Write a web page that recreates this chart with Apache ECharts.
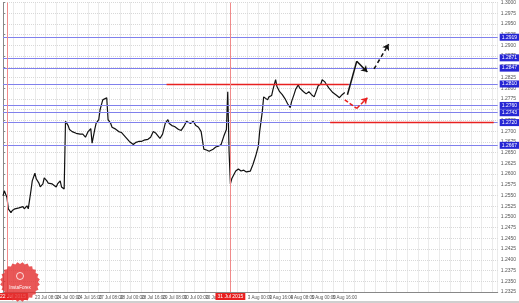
<!DOCTYPE html>
<html><head><meta charset="utf-8">
<script src="https://cdn.jsdelivr.net/npm/echarts@6/dist/echarts.min.js"></script>
<style>html,body{margin:0;padding:0;background:#fff}#c{width:519px;height:303px}</style>
</head><body><div id="c"></div>
<script>
// bar index (H1 bars) and close prices
const bars = [0,1,3,4,6,7,9,10,12,13,15,16,18,19,21,22,24,25,27,28,30,31,33,34,35,37,38,40,41,43,44,46,47,49,50,52,53,55,58,60,62,64,66,67,69,70,72,73,75,76,78,79,81,82,84,87,89,91,93,95,98,100,102,104,106,109,111,113,115,118,120,122,124,125,127,129,132,134,136,138,141,143,145,147,149,151,153,155,158,160,162,164,166,168,169,170,171,172,175,177,179,181,183,186,188,190,192,193,195,196,197,199,200,202,203,205,206,208,210,212,214,216,217,219,220,222,223,226,228,230,232,234,236,237,239,240,242,243,245,246,248,251,253,255,257];
const closes = [1.2549,1.2561,1.2545,1.2519,1.2510,1.2515,1.2519,1.2515,1.2521,1.2517,1.2524,1.2519,1.2526,1.2519,1.2561,1.2584,1.2602,1.2589,1.2579,1.2570,1.2577,1.2591,1.2584,1.2579,1.2582,1.2577,1.2575,1.2570,1.2577,1.2584,1.2570,1.2565,1.2723,1.2713,1.2704,1.2699,1.2697,1.2695,1.2693,1.2693,1.2686,1.2699,1.2706,1.2672,1.2704,1.2718,1.2727,1.2750,1.2773,1.2769,1.2778,1.2727,1.2718,1.2709,1.2706,1.2699,1.2697,1.2690,1.2683,1.2676,1.2669,1.2674,1.2676,1.2676,1.2679,1.2681,1.2686,1.2699,1.2695,1.2683,1.2693,1.2718,1.2727,1.2718,1.2713,1.2711,1.2704,1.2702,1.2711,1.2723,1.2718,1.2723,1.2713,1.2709,1.2699,1.2658,1.2656,1.2653,1.2658,1.2663,1.2665,1.2669,1.2688,1.2704,1.2792,1.2653,1.2577,1.2589,1.2607,1.2612,1.2607,1.2609,1.2605,1.2607,1.2623,1.2642,1.2665,1.2699,1.2746,1.2780,1.2776,1.2773,1.2780,1.2783,1.2797,1.2820,1.2804,1.2792,1.2785,1.2776,1.2764,1.2755,1.2769,1.2787,1.2797,1.2808,1.2801,1.2792,1.2787,1.2792,1.2785,1.2780,1.2797,1.2806,1.2810,1.2820,1.2815,1.2810,1.2801,1.2797,1.2790,1.2783,1.2778,1.2785,1.2790];
const labelBars = [24,40,56,72,88,104,120,136,152,168,184,200,216,232,248];
const timeLabels = ["23 Jul 08:00","24 Jul 00:00","24 Jul 16:00","27 Jul 08:00","28 Jul 00:00","28 Jul 16:00","29 Jul 08:00","30 Jul 00:00","30 Jul 16:00","","3 Aug 00:00","3 Aug 16:00","4 Aug 08:00","5 Aug 00:00","5 Aug 16:00"];
const blueLevels = [1.2919,1.2871,1.2847,1.2810,1.2760,1.2743,1.2720,1.2667];
const currentPrice = 1.2792;
const redSegments = [[123,260,1.2810],[246,369,1.2720]];
const vLineBars = [3,171];
const vLineLabels = ["22 Jul 2015","31 Jul 2015"];
const blackPath = [[259,1.2785],[266,1.2863],[274,1.2838]];
const blackDashed = [[279,1.2845],[290,1.2903]];
const redPath = [[257,1.2773],[266,1.2753],[274,1.2778]];

const chart = echarts.init(document.getElementById('c'), null, {renderer:'canvas'});
const FONT = 'Liberation Sans Narrow, Liberation Sans, sans-serif';
const BLUE = '#8080ec';

const levelLines = blueLevels.map(v => ({yAxis: v,
  label:{show:true, position:'end', distance:2, formatter: () => v.toFixed(4), color:'#fff', backgroundColor:'#2626d4', fontSize:5, padding:[1,2], fontFamily:FONT}}));
levelLines.push({yAxis: currentPrice, lineStyle:{opacity:0, color:'#000'},
  label:{show:true, position:'end', distance:2, formatter: () => currentPrice.toFixed(4), color:'#fff', backgroundColor:'#111', fontSize:5, padding:[1,2], fontFamily:FONT}});

const extra = [];
redSegments.forEach(s => extra.push([{coord:[s[0], s[2]], lineStyle:{color:'#e82020', width:1.4, type:'solid'}, label:{show:false}}, {coord:[s[1], s[2]]}]));
vLineBars.forEach((b, i) => extra.push({xAxis: b, lineStyle:{color:'#f08a8a', width:1, type:'solid'},
  label:{show:true, position:'start', distance:1, formatter: () => vLineLabels[i], color:'#fff', backgroundColor:'#e82020', fontSize:5, padding:[1,2], fontFamily:FONT, offset: i === 0 ? [6,0] : [0,0]}}));
function addPath(pts, color, type) {
  for (let i = 0; i < pts.length - 1; i++) {
    const last = i === pts.length - 2;
    extra.push([{coord: pts[i], symbol:'none', lineStyle:{color, width:1.5, type}, label:{show:false}},
             {coord: pts[i+1], symbol: last ? 'arrow' : 'none', symbolSize: 6}]);
  }
}
addPath(blackPath, '#111', 'solid');
addPath(blackDashed, '#111', [4,3]);
addPath(redPath, '#e82020', [4,2]);

const logoPts = [];
for (let k = 0; k < 48; k++) {
  const a = k / 48 * Math.PI * 2;
  const r = k % 2 ? 20 : 18;
  logoPts.push([20 + r * Math.cos(a), 282 + r * Math.sin(a)]);
}

chart.setOption({
  animation:false,
  backgroundColor:'#fff',
  grid:{left:0, right:16, top:0, bottom:11, containLabel:false},
  xAxis:{type:'value', min:0, max:372, interval:8,
    axisLine:{show:true, lineStyle:{color:'#888', width:1}},
    axisTick:{show:false},
    splitLine:{show:true, lineStyle:{color:'#d8d8d8', type:'dotted', width:1}},
    axisLabel:{show:true, fontSize:4.5, color:'#555', margin:3, align:'left', fontFamily:FONT,
      formatter: v => { const i = labelBars.indexOf(v); return i >= 0 ? timeLabels[i] : ''; }}},
  yAxis:{type:'value', position:'right', min:1.2325, max:1.3000, interval:0.0025, scale:true,
    axisLine:{show:true, lineStyle:{color:'#888', width:1}},
    axisTick:{show:true, length:2, lineStyle:{color:'#888'}},
    splitLine:{show:true, lineStyle:{color:'#d8d8d8', type:'dotted', width:1}},
    axisLabel:{show:true, fontSize:5, color:'#555', margin:3, fontFamily:FONT, formatter: v => v.toFixed(4)}},
  graphic:[
    {type:'rect', left:0, bottom:0, shape:{width:519, height:2}, style:{fill:'#cfcfcf'}, z:100},
    {type:'polygon', shape:{points:logoPts}, style:{fill:'rgba(228,50,50,0.82)'}, z:100},
    {type:'circle', shape:{cx:20, cy:276, r:3.5}, style:{fill:'none', stroke:'#fff', lineWidth:0.8}, z:101},
    {type:'text', x:20, y:285, style:{text:'InstaForex', fill:'#fff', fontSize:4.5, align:'center', fontFamily:FONT}, z:101}
  ],
  series:[{
    type:'line', data: bars.map((b, i) => [b, closes[i]]), showSymbol:false, symbol:'none',
    lineStyle:{color:'#111', width:1.2}, z:3,
    markLine:{silent:true, symbol:['none','none'], animation:false, precision:4,
      lineStyle:{color:BLUE, width:1, type:'solid'}, data: levelLines}
  }, {
    type:'line', data: [], showSymbol:false, symbol:'none', z:4,
    markLine:{silent:true, symbol:['none','none'], animation:false, precision:4,
      lineStyle:{color:'#e82020', width:1, type:'solid'}, data: extra}
  }]
});
</script>
</body></html>
